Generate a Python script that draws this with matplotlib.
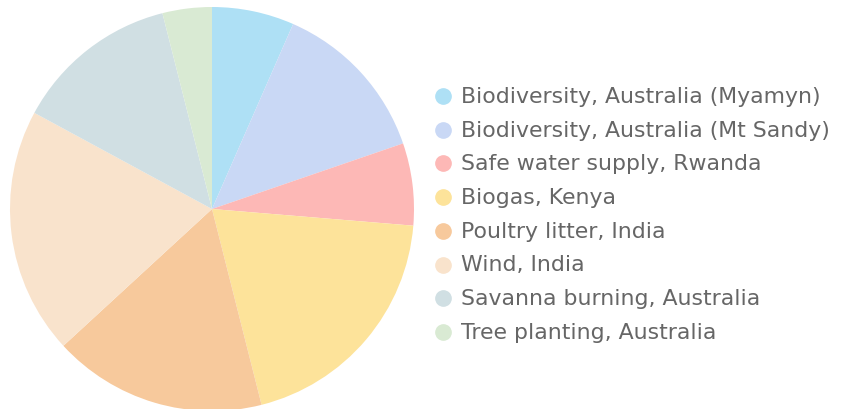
import matplotlib
matplotlib.use("Agg")
import matplotlib.pyplot as plt

labels = ["Biodiversity, Australia (Myamyn)", "Biodiversity, Australia (Mt Sandy)",
          "Safe water supply, Rwanda", "Biogas, Kenya", "Poultry litter, India",
          "Wind, India", "Savanna burning, Australia", "Tree planting, Australia"]
values = [5, 10, 5, 15, 13, 15, 10, 3]
colors = ["#aee0f5", "#c9d8f5", "#fdb8b6", "#fde39a", "#f7c99c", "#f9e3cc", "#d0dfe3", "#d9ead3"]

W, H = 845, 410
fig = plt.figure(figsize=(W/100, H/100), dpi=100)
ax = fig.add_axes([10/W, -2/H, 404/W, 404/H])
ax.pie(values, colors=colors, startangle=90, counterclock=False,
       wedgeprops=dict(linewidth=0), radius=1.0)
ax.set_xlim(-1, 1); ax.set_ylim(-1, 1)
ax.set_aspect("equal")
ax.axis("off")

# legend drawn in figure coordinates
lax = fig.add_axes([0, 0, 1, 1])
lax.set_xlim(0, W); lax.set_ylim(H, 0)
lax.axis("off")
y0, dy = 97, 33.7
for i, (lab, c) in enumerate(zip(labels, colors)):
    y = y0 + i * dy
    lax.plot([443], [y], marker="o", markersize=11, color=c, markeredgecolor=c, linestyle="none")
    lax.text(461, y, lab, fontsize=15.8, color="#666666", va="center", ha="left")
fig.savefig("out.png", dpi=100)
